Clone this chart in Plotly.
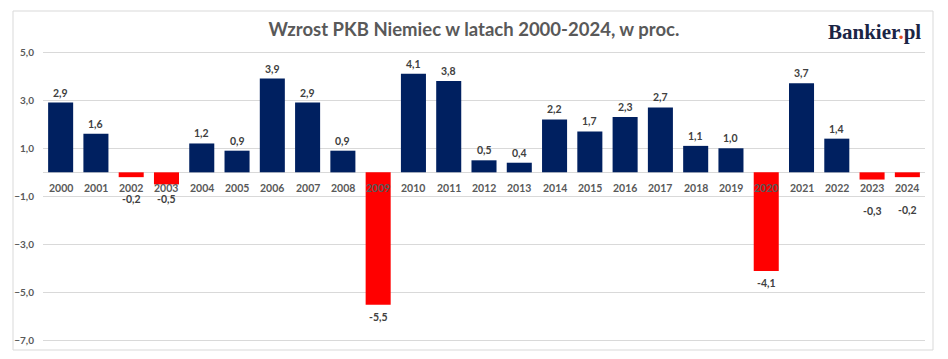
import plotly.graph_objects as go

years = [str(y) for y in range(2000, 2025)]
growth = [2.9, 1.6, -0.2, -0.5, 1.2, 0.9, 3.9, 2.9, 0.9, -5.5, 4.1, 3.8, 0.5, 0.4,
          2.2, 1.7, 2.3, 2.7, 1.1, 1.0, -4.1, 3.7, 1.4, -0.3, -0.2]
title_text = "Wzrost PKB Niemiec w latach 2000-2024, w proc."

NAVY = "#002060"
RED = "#FF0000"
GREY = "#595959"
LABEL = "#404040"

colors = [NAVY if v >= 0 else RED for v in growth]

fig = go.Figure(go.Bar(
    x=years, y=growth, marker_color=colors, marker_line_width=0,
    hoverinfo="x+y",
))

# label placement for small negative values (moved below the year labels, as in original)
manual_label_y = {"2002": -1.12, "2003": -1.12, "2023": -1.62, "2024": -1.55}

lab_font = dict(family="Lato", size=10.5, color=LABEL, weight="bold")
annotations = []
for i, (yr, v) in enumerate(zip(years, growth)):
    txt = f"{v:.1f}".replace(".", ",")
    if yr in manual_label_y:
        annotations.append(dict(x=i, y=manual_label_y[yr], xref="x", yref="y", text=txt,
                                showarrow=False, yanchor="middle", font=lab_font))
    elif v >= 0:
        annotations.append(dict(x=i, y=v, xref="x", yref="y", text=txt, showarrow=False,
                                yanchor="bottom", yshift=2, font=lab_font))
    else:
        annotations.append(dict(x=i, y=v, xref="x", yref="y", text=txt, showarrow=False,
                                yanchor="top", yshift=-4, font=lab_font))
    # category labels sitting on the zero line
    annotations.append(dict(x=i, y=0, xref="x", yref="y", text=yr, showarrow=False,
                            yanchor="top", yshift=-8,
                            font=dict(family="Lato", size=10.5, color=GREY, weight="bold")))

# logo
annotations.append(dict(
    x=1.0 - 2 / 882, y=(348 - 32) / 308, xref="paper", yref="paper",
    xanchor="right", yanchor="middle", showarrow=False,
    text="Bankier<span style='color:#E8501E'>.</span>pl",
    font=dict(family="Liberation Serif", size=21, color="#1B2545", weight="bold")))

fig.update_layout(
    width=948, height=359,
    margin=dict(l=43, r=23, t=40, b=11),
    paper_bgcolor="white", plot_bgcolor="white",
    separators=",.",
    bargap=0.29,
    showlegend=False,
    title=dict(text=title_text, x=0.5, xref="container", xanchor="center",
               y=1 - 30 / 359, yref="container", yanchor="middle",
               font=dict(family="Lato", size=18.5, color=GREY, weight="bold")),
    xaxis=dict(type="category", range=[-0.5, len(years) - 0.5], showticklabels=False,
               showgrid=False, zeroline=False, showline=False, ticks=""),
    yaxis=dict(range=[-7.3, 5.5], tick0=1, dtick=2, tickformat=".1f",
               showgrid=True, gridcolor="#D9D9D9", gridwidth=1,
               zeroline=True, zerolinecolor="#D9D9D9", zerolinewidth=1,
               ticks="", ticklabelstandoff=8,
               tickfont=dict(family="Lato", size=10, color=GREY, weight="bold")),
    annotations=annotations,
    shapes=[dict(type="rect", xref="paper", yref="paper",
                 x0=(13 - 43) / 882, x1=(933 - 43) / 882,
                 y0=(348 - 350) / 308, y1=(348 - 11) / 308,
                 line=dict(color="#D9D9D9", width=1), fillcolor="rgba(0,0,0,0)",
                 layer="below")],
)

fig.write_html("out.html", config={"displayModeBar": False},
               post_script="document.body.style.margin='0';document.body.style.padding='0';")
